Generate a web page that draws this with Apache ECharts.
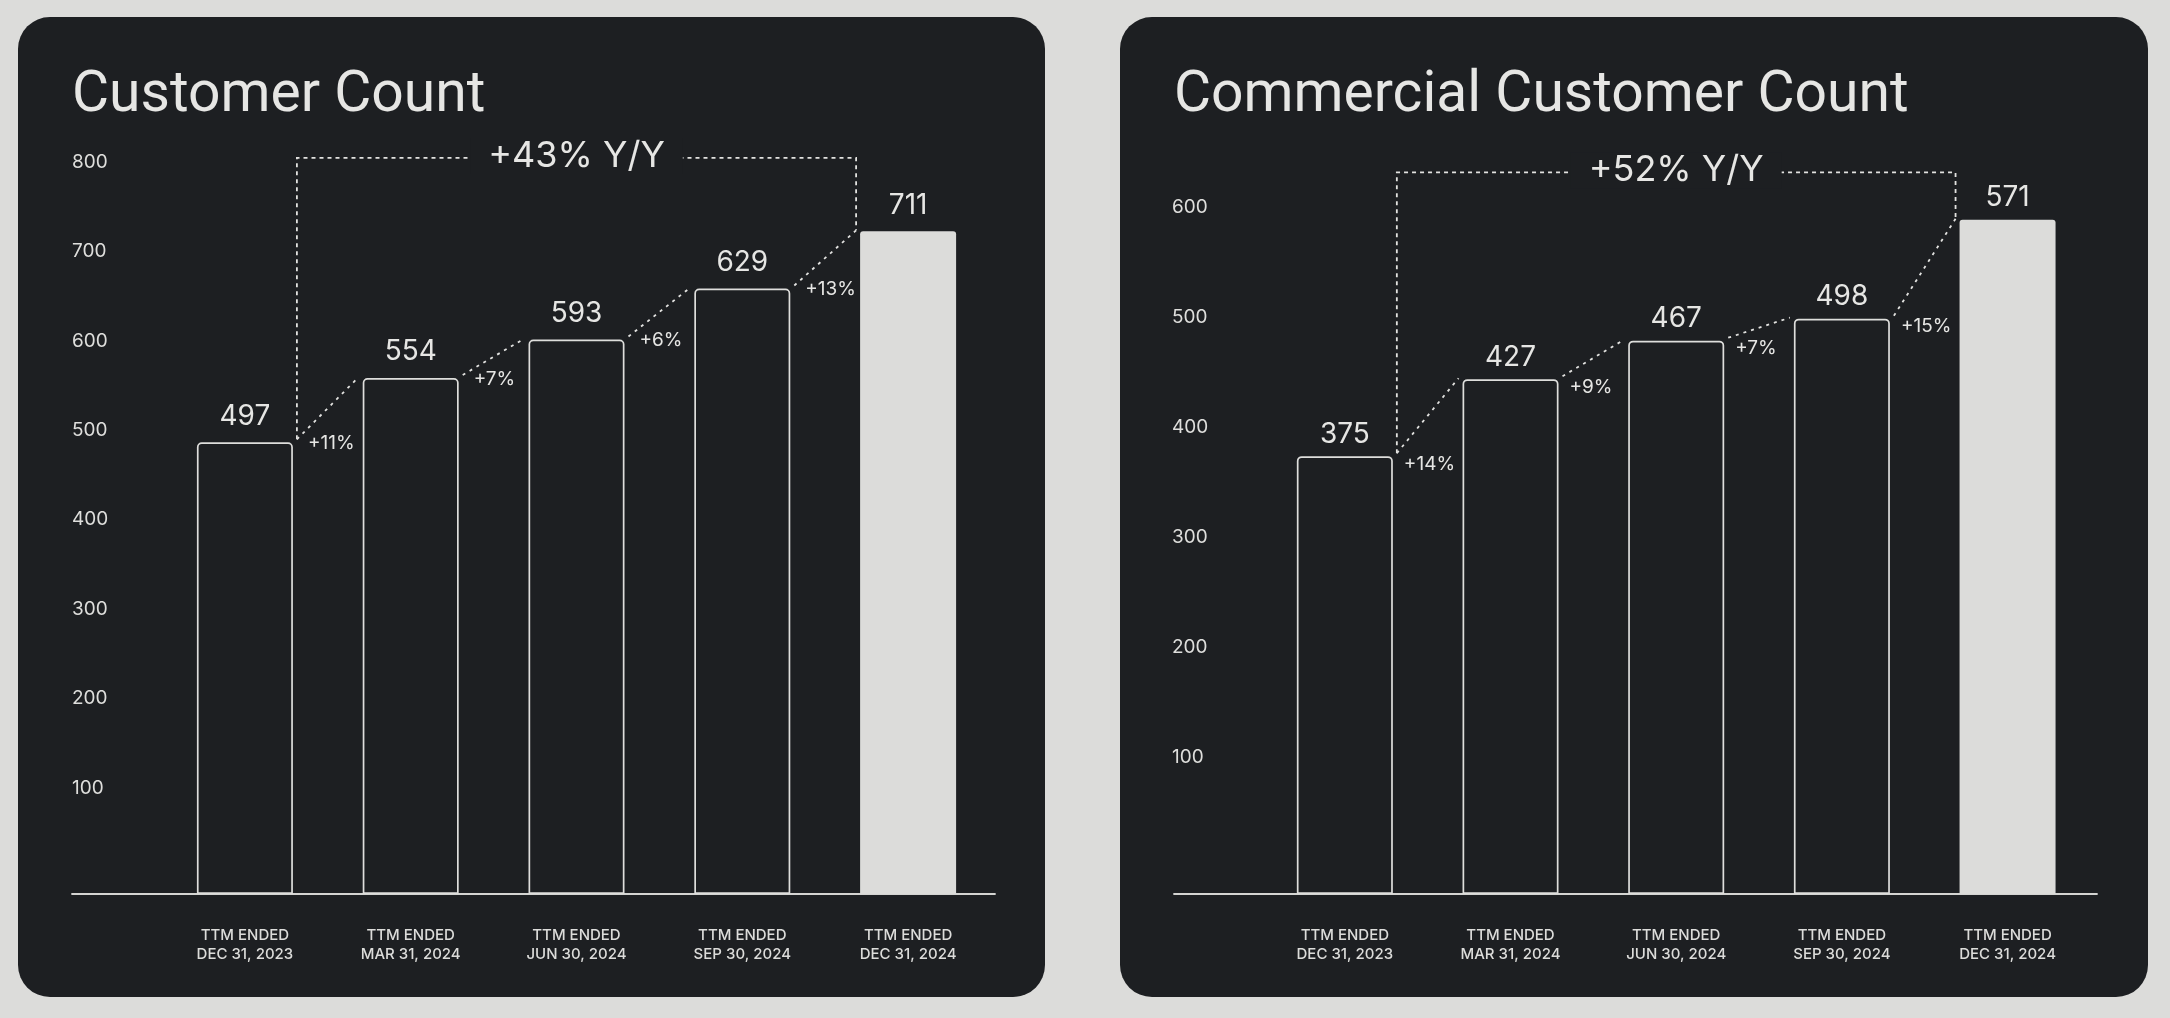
<!DOCTYPE html>
<html><head><meta charset="utf-8">
<script src="https://cdn.jsdelivr.net/npm/echarts@6/dist/echarts.min.js"></script>
<style>
html,body{margin:0;padding:0;background:#dcdcda;width:2170px;height:1018px;overflow:hidden}
.card{position:absolute;top:17px;height:980px;background:#1d1f22;border-radius:32px;overflow:hidden}
#c1{left:18px;width:1027px}
#c2{left:1120px;width:1028px}
</style></head><body>
<div id="c1" class="card"></div><div id="c2" class="card"></div>
<script>
// ---- data ----
const categories = ['TTM ENDED\nDEC 31, 2023', 'TTM ENDED\nMAR 31, 2024', 'TTM ENDED\nJUN 30, 2024', 'TTM ENDED\nSEP 30, 2024', 'TTM ENDED\nDEC 31, 2024'];

const customerTitle = 'Customer Count';
const customerBarHeights = [505, 577, 620, 677, 741];
const customerValueLabels = ['497', '554', '593', '629', '711'];
const customerGrowthLabels = ['+11%', '+7%', '+6%', '+13%'];
const customerYoYLabel = '+43% Y/Y';
const customerYTicks = ['100', '200', '300', '400', '500', '600', '700', '800'];

const commercialTitle = 'Commercial Customer Count';
const commercialBarHeights = [398, 468, 503, 523, 613];
const commercialValueLabels = ['375', '427', '467', '498', '571'];
const commercialGrowthLabels = ['+14%', '+9%', '+7%', '+15%'];
const commercialYoYLabel = '+52% Y/Y';
const commercialYTicks = ['100', '200', '300', '400', '500', '600'];

// ---- styling ----
const CARD = '#1d1f22';
const TEXT = '#e6e6e4';
const LINE = '#e2e2e0';
const BAR_W = 96, HALF = BAR_W / 2, GAP = 4;

function buildOption(d, L) {
  const last = d.heights.length - 1;
  return {
    animation: false,
    backgroundColor: 'transparent',
    title: {
      text: d.title, left: L.titleLeft, top: L.titleTop, padding: 0,
      textStyle: { color: TEXT, fontFamily: 'Roboto', fontSize: 57, fontWeight: 'normal' }
    },
    grid: [
      { left: L.gridLeft, right: L.gridRight, top: L.gridTop, bottom: 103 },
      { left: L.lineLeft, right: L.lineRight, top: L.gridTop, bottom: 103 }
    ],
    xAxis: [
      { type: 'category', gridIndex: 0, data: d.categories,
        axisLine: { show: false }, axisTick: { show: false }, splitLine: { show: false },
        axisLabel: { margin: 32, fontFamily: 'Inter', fontSize: 15, fontWeight: 500, lineHeight: 19, color: '#dcdcda', align: 'center' } },
      { type: 'value', gridIndex: 1, min: 0, max: 1,
        axisLine: { show: true, onZero: false, lineStyle: { color: '#d4d4d2', width: 1.8 } },
        axisTick: { show: false }, axisLabel: { show: false }, splitLine: { show: false } }
    ],
    yAxis: [
      { type: 'value', gridIndex: 0, min: 0, max: L.yMax, interval: 100,
        axisLine: { show: false }, axisTick: { show: false }, splitLine: { show: false },
        axisLabel: {
          formatter: v => d.ticks.includes(String(v)) ? String(v) : '',
          align: 'left', margin: L.labelMargin, verticalAlign: 'bottom',
          lineHeight: L.labelLift * 2,
          fontFamily: 'Inter', fontSize: 19, color: '#dededc'
        } },
      { type: 'value', gridIndex: 1, show: false, min: 0, max: 1 }
    ],
    series: [
      {
        type: 'bar', xAxisIndex: 0, yAxisIndex: 0, barWidth: BAR_W,
        data: d.heights.map((h, i) => ({
          value: h,
          itemStyle: i === last
            ? { color: '#dcdcda', borderRadius: [3, 3, 0, 0] }
            : { color: CARD, borderColor: '#dededc', borderWidth: 1.7, borderRadius: [4, 4, 0, 0] }
        })),
        label: {
          show: true, position: 'top', distance: L.valueDist,
          formatter: p => d.valueLabels[p.dataIndex],
          fontFamily: 'Inter', fontSize: 28, color: TEXT
        },
        z: 2
      },
      {
        type: 'custom', xAxisIndex: 0, yAxisIndex: 0, z: 3,
        data: d.growth.map((g, i) => [i, d.heights[i], d.heights[i + 1]]),
        renderItem: (params, api) => {
          const i = api.value(0);
          const a = api.coord([i, api.value(1)]);
          const b = api.coord([i + 1, api.value(2)]);
          return {
            type: 'group', children: [
              { type: 'line',
                shape: { x1: a[0] + HALF + GAP, y1: a[1] - 3, x2: b[0] - HALF - GAP, y2: b[1] - 1 },
                style: { stroke: LINE, lineWidth: 1.8, lineDash: [3, 5] } },
              { type: 'text', x: a[0] + HALF + L.pctDx, y: a[1] + L.pctDy,
                style: { text: d.growth[i], fill: TEXT, fontFamily: 'Inter', fontSize: 19,
                         align: 'left', verticalAlign: 'middle' } }
            ]
          };
        }
      },
      {
        type: 'custom', xAxisIndex: 0, yAxisIndex: 0, z: 4,
        data: [[0, d.heights[0], last, d.heights[last]]],
        renderItem: (params, api) => {
          const a = api.coord([api.value(0), api.value(1)]);
          const b = api.coord([api.value(2), api.value(3)]);
          const top = api.coord([0, L.bracketLevel])[1];
          const lx = a[0] + HALF + GAP, rx = b[0] - HALF - GAP;
          return {
            type: 'group', children: [
              { type: 'polyline',
                shape: { points: [[lx, a[1] - 3], [lx, top], [rx, top], [rx, b[1] - 1]] },
                style: { stroke: LINE, lineWidth: 1.8, lineDash: [4, 4], fill: null } },
              { type: 'text', x: (lx + rx) / 2, y: top - 2,
                style: { text: d.yoy, fill: TEXT, fontFamily: 'Inter', fontSize: 36,
                         align: 'center', verticalAlign: 'middle',
                         backgroundColor: CARD, padding: [0, 18] } }
            ]
          };
        }
      }
    ]
  };
}

const chart1 = echarts.init(document.getElementById('c1'), null, { renderer: 'canvas' });
chart1.setOption(buildOption(
  { title: customerTitle, categories, heights: customerBarHeights, valueLabels: customerValueLabels,
    growth: customerGrowthLabels, yoy: customerYoYLabel, ticks: customerYTicks },
  { titleLeft: 54, titleTop: 51, gridLeft: 144, gridRight: 54, gridTop: 72.1, yMax: 900,
    lineLeft: 54, lineRight: 50, labelMargin: 90, labelLift: 16.6, valueDist: 12,
    pctDx: 15, pctDy: 1, bracketLevel: 823 }
));

const chart2 = echarts.init(document.getElementById('c2'), null, { renderer: 'canvas' });
chart2.setOption(buildOption(
  { title: commercialTitle, categories, heights: commercialBarHeights, valueLabels: commercialValueLabels,
    growth: commercialGrowthLabels, yoy: commercialYoYLabel, ticks: commercialYTicks },
  { titleLeft: 54, titleTop: 51, gridLeft: 142, gridRight: 57.6, gridTop: 107, yMax: 700,
    lineLeft: 54, lineRight: 51, labelMargin: 90, labelLift: 27, valueDist: 8,
    pctDx: 11, pctDy: 8, bracketLevel: 656 }
));
</script>
</body></html>
